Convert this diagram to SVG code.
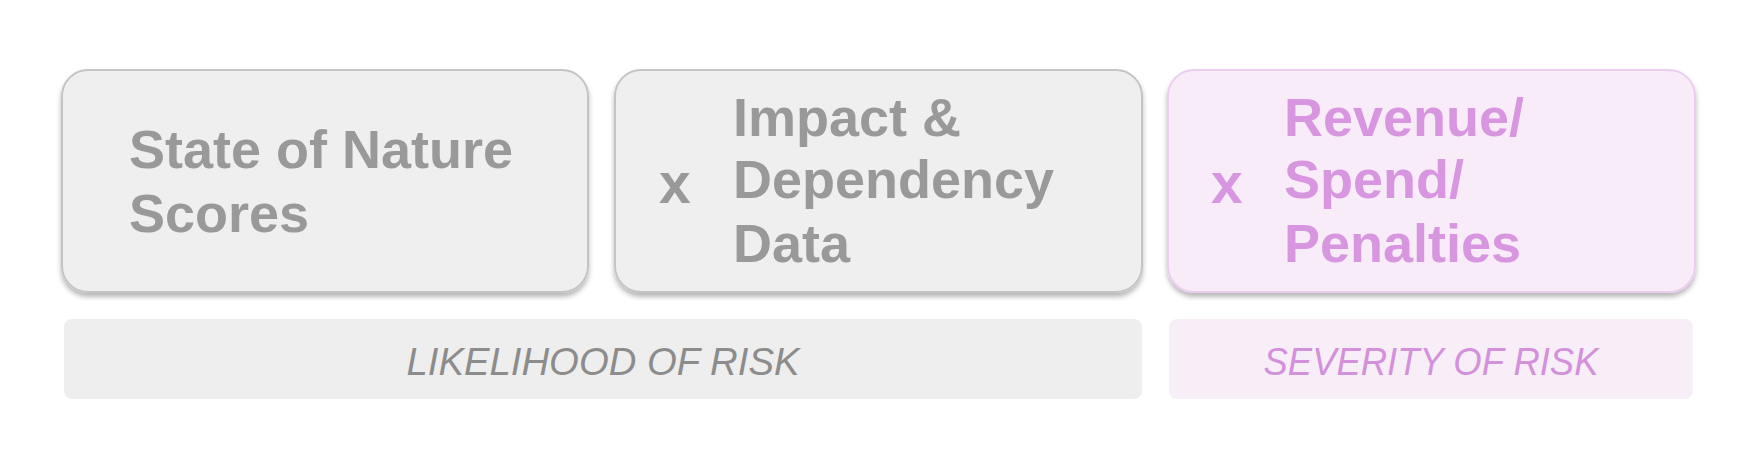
<svg xmlns="http://www.w3.org/2000/svg" width="1764" height="464" viewBox="0 0 1764 464">
  <defs>
    <filter id="shadow" x="-5%" y="-10%" width="110%" height="125%">
      <feDropShadow dx="0" dy="4" stdDeviation="2.5" flood-color="#000000" flood-opacity="0.28"/>
    </filter>
    <style>
      .box-gray { fill: #efefef; stroke: #c4c4c4; stroke-width: 2; }
      .box-purple { fill: #f7ecf8; stroke: #ebcdf0; stroke-width: 2; }
      .t { font-family: "Liberation Sans", Arial, sans-serif; font-weight: bold; font-size: 54px; }
      .gray { fill: #999999; }
      .purple { fill: #d896e0; }
      .x { font-family: "Liberation Sans", Arial, sans-serif; font-weight: bold; font-size: 57px; }
      .bar-gray { fill: #eeeeee; }
      .bar-purple { fill: #f8eef8; }
      .lbl { font-family: "Liberation Sans", Arial, sans-serif; font-style: italic; font-size: 38px; text-anchor: middle; }
    </style>
  </defs>
  <rect width="1764" height="464" fill="#ffffff"/>

  <g id="connectors"></g>

  <g id="node-state">
    <rect class="box-gray" x="62" y="70" width="526" height="222" rx="26" filter="url(#shadow)"/>
    <text class="t gray" x="129" y="168">State of Nature</text>
    <text class="t gray" x="129" y="232">Scores</text>
  </g>

  <g id="node-impact">
    <rect class="box-gray" x="615" y="70" width="527" height="222" rx="26" filter="url(#shadow)"/>
    <text class="x gray" x="659" y="203">x</text>
    <text class="t gray" x="733" y="136">Impact &amp;</text>
    <text class="t gray" x="733" y="198">Dependency</text>
    <text class="t gray" x="733" y="262">Data</text>
  </g>

  <g id="node-revenue">
    <rect class="box-purple" x="1168" y="70" width="527" height="222" rx="26" filter="url(#shadow)"/>
    <text class="x purple" x="1211" y="203">x</text>
    <text class="t purple" x="1284" y="136">Revenue/</text>
    <text class="t purple" x="1284" y="198">Spend/</text>
    <text class="t purple" x="1284" y="262">Penalties</text>
  </g>

  <g id="node-likelihood">
    <rect class="bar-gray" x="64" y="319" width="1078" height="80" rx="8"/>
    <text class="lbl" x="603" y="375" fill="#8c8c8c" textLength="393" lengthAdjust="spacingAndGlyphs">LIKELIHOOD OF RISK</text>
  </g>

  <g id="node-severity">
    <rect class="bar-purple" x="1169" y="319" width="524" height="80" rx="8"/>
    <text class="lbl" x="1431" y="375" fill="#d391dc" textLength="335" lengthAdjust="spacingAndGlyphs">SEVERITY OF RISK</text>
  </g>
</svg>
